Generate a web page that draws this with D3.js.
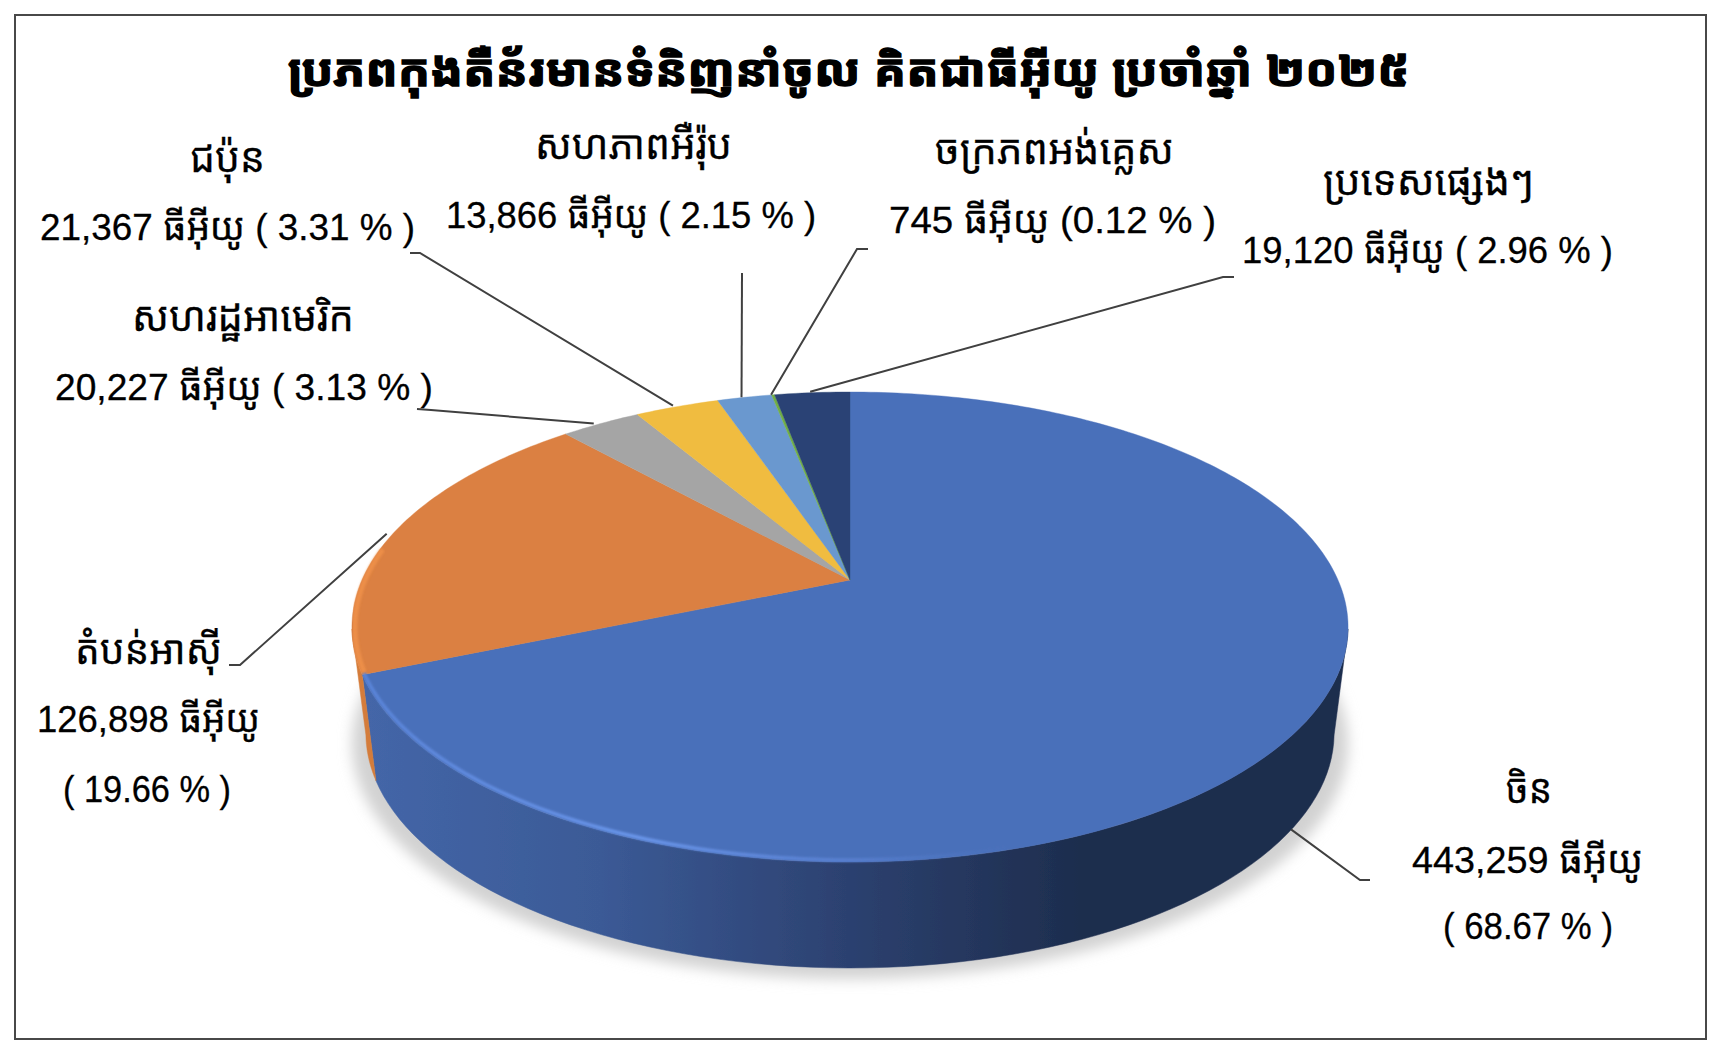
<!DOCTYPE html>
<html><head><meta charset="utf-8">
<script src="https://cdn.jsdelivr.net/npm/d3@7/dist/d3.min.js"></script>
<style>html,body{margin:0;padding:0;background:#fff;overflow:hidden}svg{display:block}
text{fill:#000;font-family:"Liberation Sans","Noto Sans Khmer","Khmer OS","Noto Sans",sans-serif}</style>
</head><body><svg id="c" width="1722" height="1052"></svg>
<script>
const chartTitle = "ប្រភពកុងតឺន័រមានទំនិញនាំចូល គិតជាធីអ៊ីយូ ប្រចាំឆ្នាំ ២០២៥";
const regionNames = ["ចិន","តំបន់អាស៊ី","សហរដ្ឋអាមេរិក","ជប៉ុន","សហភាពអឺរ៉ុប","ចក្រភពអង់គ្លេស","ប្រទេសផ្សេងៗ"];
const teuValues = [443259,126898,20227,21367,13866,745,19120];
const sharePercent = [68.67,19.66,3.13,3.31,2.15,0.12,2.96];
const unitName = "ធីអ៊ីយូ";

const sliceColors = ["#4a70ba","#db8042","#a5a5a5","#f0bc40","#6a98cf","#70ad47","#2a4374"];
const svg = d3.select("#c");
const fmt = d3.format(",");

// perspective mapping of the pie disc onto the picture plane
const apexX=850, apexY=580, topY=392, frontY=862, halfW=488, depth=106, baseShrink=0.972;
const p = -(topY+frontY-2*apexY)/(frontY-topY);
const a = apexY-topY*(1-p);
const project = th => {
  const u=Math.sin(th), v=-Math.cos(th), w=1+p*v;
  return [apexX+halfW*u/w, (a*v+apexY)/w];
};
const toBase = q => [apexX+(q[0]-apexX)*baseShrink, q[1]+depth];
const edge = (t0,t1,n=80) => d3.range(n+1).map(i=>project(t0+(t1-t0)*i/n));
const line = d3.line();

const arcs = d3.pie().sort(null).value(d=>d)(teuValues);
const rad = d=>d*Math.PI/180;

const defs = svg.append("defs");
defs.append("filter").attr("id","soft").attr("x","-5%").attr("y","-5%").attr("width","110%").attr("height","110%")
  .append("feGaussianBlur").attr("stdDeviation",0.7);
defs.append("filter").attr("id","shadow").attr("x","-10%").attr("y","-15%").attr("width","120%").attr("height","130%")
  .append("feGaussianBlur").attr("stdDeviation",7);
defs.append("filter").attr("id","rimblur").attr("x","-5%").attr("y","-5%").attr("width","110%").attr("height","110%")
  .append("feGaussianBlur").attr("stdDeviation",0.9);
const wallGrad = defs.append("linearGradient").attr("id","wall").attr("gradientUnits","userSpaceOnUse")
  .attr("x1",365).attr("x2",1349).attr("y1",0).attr("y2",0);
[[0,"#4466a8"],[0.24,"#3b5a96"],[0.49,"#2c4170"],[0.645,"#233459"],[0.726,"#1d2d4e"],[1,"#1d2d4e"]]
  .forEach(s=>wallGrad.append("stop").attr("offset",s[0]).attr("stop-color",s[1]));
const rimGrad = defs.append("linearGradient").attr("id","rim").attr("gradientUnits","userSpaceOnUse")
  .attr("x1",365).attr("x2",1050).attr("y1",0).attr("y2",0);
[[0,"#5a84d8",1],[0.4,"#6a96ea",1],[0.7,"#5c84d6",0.8],[1,"#4a70ba",0]]
  .forEach(s=>rimGrad.append("stop").attr("offset",s[0]).attr("stop-color",s[1]).attr("stop-opacity",s[2]));

// frame
svg.append("rect").attr("x",15).attr("y",15).attr("width",1691).attr("height",1024)
  .attr("fill","#fff").attr("stroke","#484848").attr("stroke-width",2);

// shadow
svg.append("path").attr("d",line(edge(0,2*Math.PI,240).map(q=>[q[0],q[1]+depth+11]))+"Z")
  .attr("fill","#d2d2d2").attr("filter","url(#shadow)");

const pie = svg.append("g").attr("filter","url(#soft)");
const tLeft = rad(258), tRight = rad(102);
const wall = (t0,t1,fill)=>{
  const top = edge(t0,t1);
  const bot = top.map(toBase).reverse();
  pie.append("path").attr("d",line(top.concat(bot))+"Z").attr("fill",fill).attr("stroke",fill).attr("stroke-width",0.5);
};
wall(tRight,arcs[0].endAngle,"url(#wall)");
wall(arcs[0].endAngle,tLeft,"#d47c3a");

arcs.forEach((d,i)=>{
  const pts=[[apexX,apexY]].concat(edge(d.startAngle,d.endAngle,Math.max(6,Math.round((d.endAngle-d.startAngle)*60))));
  pie.append("path").attr("d",line(pts)+"Z").attr("fill",sliceColors[i]).attr("stroke",sliceColors[i]).attr("stroke-width",0.4);
});

// bevel rims
pie.append("path").attr("d",line(edge(rad(165),arcs[0].endAngle).map(q=>[q[0]+(q[0]<apexX?1.5:0),q[1]-2])))
  .attr("fill","none").attr("stroke","url(#rim)").attr("stroke-width",3.5).attr("filter","url(#rimblur)");
pie.append("path").attr("d",line(edge(arcs[0].endAngle+0.01,rad(278)).map(q=>[q[0]+3,q[1]])))
  .attr("fill","none").attr("stroke","#ee9049").attr("stroke-width",5).attr("stroke-opacity",0.9).attr("filter","url(#rimblur)");

// label layout: per-slice leader and text lines
const layout = [
 {anchor:[-16,109],elbow:[1360,880],end:[1370,880],lines:[[1506,1552,803],[1412,1643,873],[1443,1613,939]],split:true},
 {anchor:[-7,1],elbow:[240,665],end:[229,665],lines:[[75,222,664],[37,260,732],[63,231,802]],split:true},
 {anchor:[-7,0],elbow:[431,410],end:[417,409],lines:[[132,354,331],[55,433,400]]},
 {anchor:[-4,-1],elbow:[420,253],end:[410,253],lines:[[190,265,172],[40,415,240]]},
 {anchor:[-3,0],elbow:null,end:[742,273],lines:[[535,732,159],[446,816,228]]},
 {anchor:[-2,0],elbow:[857,249],end:[868,249],lines:[[935,1174,164],[889,1216,233]]},
 {anchor:[-2,-1],elbow:[1223,277],end:[1234,277],lines:[[1323,1534,195],[1242,1613,263]]}
];
const pct = i=>sharePercent[i].toFixed(2)+" %";
arcs.forEach((d,i)=>{
  const L=layout[i], q=project((d.startAngle+d.endAngle)/2);
  const pts=[[q[0]+L.anchor[0],q[1]+L.anchor[1]]];
  if(L.elbow)pts.push(L.elbow);
  pts.push(L.end);
  svg.append("path").attr("d",line(pts)).attr("fill","none").attr("stroke","#404040").attr("stroke-width",2);
  const v=fmt(teuValues[i])+" "+unitName;
  const strs=L.split?[regionNames[i],v,"( "+pct(i)+" )"]
    :[regionNames[i],v+(i===5?" (":" ( ")+pct(i)+" )"];
  strs.forEach((s,k)=>{
    const [x0,x1,y]=L.lines[k];
    svg.append("text").attr("x",x0).attr("y",y).attr("font-size",k===0?40:37)
      .attr("stroke","#000").attr("stroke-width",0.3)
      .attr("textLength",x1-x0).attr("lengthAdjust","spacingAndGlyphs").text(s);
  });
});

svg.append("text").attr("x",288).attr("y",86).attr("font-size",44).attr("font-weight","bold")
  .attr("stroke","#000").attr("stroke-width",1.4)
  .attr("textLength",1121).attr("lengthAdjust","spacingAndGlyphs").text(chartTitle);
</script></body></html>
